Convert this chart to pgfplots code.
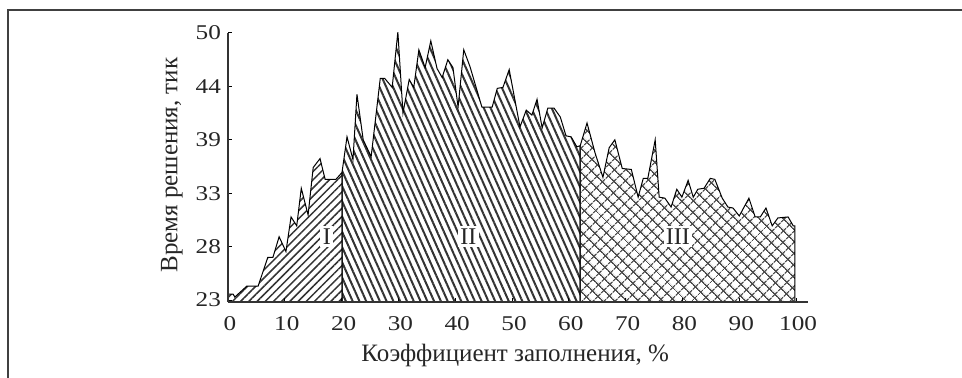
\documentclass[border=0pt]{standalone}
\usepackage{fontspec}
\setmainfont{Liberation Serif}
\newfontfamily\tickfont{Liberation Serif}[FakeStretch=1.2]
\usepackage{pgfplots}
\pgfplotsset{compat=1.18}
\usetikzlibrary{patterns.meta}
\begin{document}
\begin{tikzpicture}
\useasboundingbox (-114pt,-38pt) rectangle (367pt,151pt);
\draw[black!75, line width=0.8pt] (-110pt,-38pt) -- (-110pt,146pt) -- (367pt,146pt);
\begin{axis}[
  at={(0pt,0pt)}, anchor=south west, scale only axis,
  width=290pt, height=134.5pt,
  xmin=0, xmax=102.1, ymin=22.8, ymax=50,
  axis x line*=bottom, axis y line*=left,
  axis line style={black!80, line width=0.6pt},
  tick align=inside, major tick length=2pt,
  tick style={black, line width=0.5pt},
  xtick={0,10,...,100}, xticklabels={0,10,20,30,40,50,60,70,80,90,100},
  ytick={23,28.4,33.8,39.2,44.6,50}, yticklabels={23,28,33,39,44,50},
  ticklabel style={font={\fontsize{10.5}{12}\tickfont}, black!85},
  xticklabel style={yshift=-3.8pt, xshift=1pt},
  xlabel={Коэффициент заполнения, \%},
  ylabel={Время решения, тик},
  label style={font={\fontsize{12.5}{14}\selectfont}, black!85},
  xlabel style={at={(axis description cs:0.495,-0.197)}, anchor=center},
  ylabel style={at={(axis description cs:-0.0966,0.509)}, anchor=center},
  axis on top
]
% Region I
\addplot[draw=black, line width=0.5pt, pattern={Lines[angle=45, distance=2.9pt, line width=0.75pt]}, pattern color=black!80] coordinates {
(0,22.8)(0,23.6)(0.9,23.6)(1.2,23.3)(3.3,24.4)(5.3,24.4)(7.0,27.3)(7.9,27.3)(9.0,29.4)(10.2,27.9)(11.1,31.4)(12.1,30.5)(12.9,34.3)(14.1,31.6)(15.0,36.4)(16.2,37.3)(17.1,35.2)(19.0,35.2)(20.07,35.9)(20.07,22.8)
};
% Region II
\addplot[draw=black, line width=0.5pt, pattern={Lines[angle=-66, distance=3.1pt, line width=1pt]}, pattern color=black!80] coordinates {
(20.07,22.8)(20.07,35.9)(20.95,39.5)(22.0,37.2)(22.7,43.8)(23.8,39.2)(25.2,37.5)(26.8,45.4)(27.6,45.4)(28.9,44.5)(29.9,50.1)(30.8,41.9)(31.9,45.3)(32.7,44.5)(33.6,48.3)(34.7,46.5)(35.7,49.2)(36.8,46.4)(37.7,45.5)(38.7,47.3)(39.6,46.5)(40.5,42.5)(41.5,48.3)(42.6,46.6)(44.7,42.5)(46.5,42.5)(47.4,44.4)(48.4,44.5)(49.5,46.3)(51.4,40.5)(52.5,42.2)(53.5,41.7)(54.4,43.3)(55.3,40.4)(56.3,42.4)(57.4,42.4)(58.5,41.5)(59.5,39.6)(60.4,39.5)(61.4,38.5)(62.0,38.6)(62.0,22.8)
};
% Region III
\addplot[draw=black, line width=0.5pt, pattern={Hatch[angle=45, distance=4pt, line width=0.65pt]}, pattern color=black!70] coordinates {
(62.0,22.8)(62.0,38.6)(63.2,40.9)(64.6,37.9)(66.0,35.4)(67.1,38.4)(68.1,39.2)(69.4,36.3)(71.0,36.2)(72.2,33.4)(73.1,35.3)(73.9,35.3)(75.2,39.2)(75.9,33.4)(76.9,33.3)(78.0,32.4)(79.0,34.2)(79.9,33.4)(81.0,35.1)(81.9,33.4)(82.7,34.2)(83.8,34.3)(84.9,35.3)(85.7,35.2)(87.0,33.3)(88.0,32.4)(88.9,32.3)(90.0,31.5)(91.7,33.3)(92.8,31.4)(93.7,31.4)(94.7,32.3)(95.8,30.5)(96.8,31.3)(98.6,31.4)(99.5,30.5)(99.8,30.5)(99.8,22.8)
};
\node[fill=white, inner sep=1.2pt, font={\fontsize{12}{14}\selectfont}, text=black!85] at (axis cs:17.4,29.4) {I};
\node[fill=white, inner sep=1.2pt, font={\fontsize{12}{14}\selectfont}, text=black!85] at (axis cs:42.3,29.4) {II};
\node[fill=white, inner sep=1.2pt, font={\fontsize{12}{14}\selectfont}, text=black!85] at (axis cs:79.2,29.4) {III};
\end{axis}
\end{tikzpicture}
\end{document}
